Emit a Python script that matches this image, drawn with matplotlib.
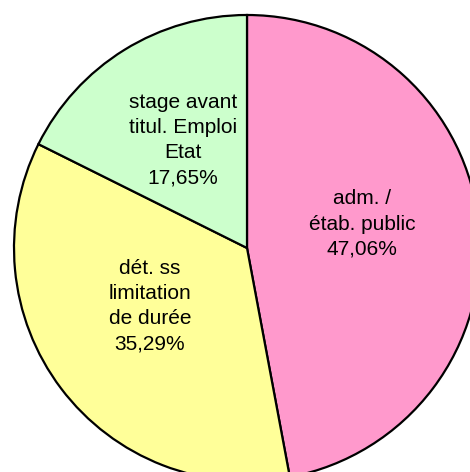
import matplotlib.pyplot as plt

plt.rcParams['font.family'] = ['Liberation Sans', 'DejaVu Sans']

categories = ["adm. /\nétab. public", "dét. ss\nlimitation\nde durée", "stage avant\ntitul. Emploi\nEtat"]
values = [8, 6, 3]
colors = ["#FF99CC", "#FFFF99", "#CCFFCC"]

fig = plt.figure(figsize=(4.70, 4.72), dpi=100)
ax = fig.add_axes([0, 0, 1, 1])

wedges, _ = ax.pie(values, colors=colors, startangle=90, counterclock=False,
                   radius=233, center=(247, 224),
                   wedgeprops=dict(edgecolor="black", linewidth=1.6))

total = sum(values)
label_pos = [(362, 248), (150, 166), (183, 332)]
for cat, v, (x, y) in zip(categories, values, label_pos):
    pct = f"{v / total * 100:.2f}".replace(".", ",") + "%"
    ax.text(x, y, cat + "\n" + pct, ha="center", va="center",
            fontsize=15, linespacing=1.42, color="black")

ax.set_xlim(0, 470)
ax.set_ylim(0, 472)
ax.set_aspect("equal")
ax.axis("off")

fig.savefig("out.png", dpi=100)
